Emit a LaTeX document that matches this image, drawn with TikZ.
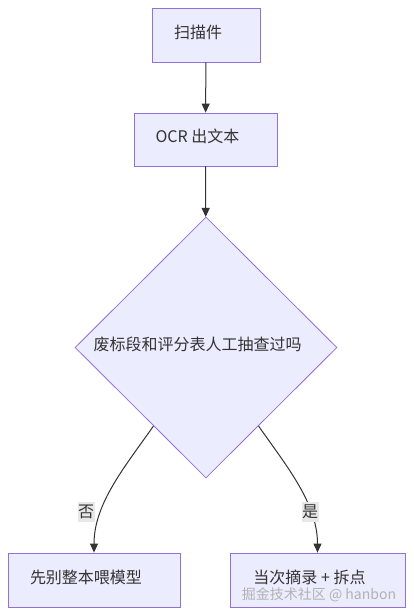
\documentclass[tikz,border=0pt]{standalone}
\usepackage{fontspec}
\setmainfont{Noto Sans CJK SC}
\usetikzlibrary{shapes.geometric,arrows.meta,calc}
\definecolor{nodefill}{HTML}{ECECFF}
\definecolor{nodeline}{HTML}{9370DB}
\definecolor{edgeline}{HTML}{333333}
\definecolor{lblfill}{HTML}{E8E8E8}

\begin{document}
\begin{tikzpicture}[x=1pt,y=-1pt,
  box/.style={draw=nodeline,fill=nodefill,line width=0.8pt,inner sep=0pt,
    text=edgeline,text height=12pt,text depth=6pt,font=\fontsize{16}{19}\selectfont},
  flow/.style={draw=edgeline,line width=1pt,-{Triangle[length=9pt,width=8pt]}},
  tag/.style={fill=lblfill,inner xsep=0.5pt,inner ysep=3pt,text=edgeline,
    font=\fontsize{16}{19}\selectfont}]

\useasboundingbox (0,0) rectangle (413,616);

\node[box,minimum width=108pt,minimum height=54pt] (scan) at (206,35) {扫描件\hspace*{16pt}};
\node[box,minimum width=143pt,minimum height=53pt] (ocr) at (205.5,139.5) {OCR 出文本\hspace*{16pt}};
\node[box,shape=diamond,minimum width=262pt,minimum height=261pt] (check) at (206,347.5) {废标段和评分表人工抽查过吗\hspace*{17pt}};
\node[box,minimum width=172pt,minimum height=54pt] (whole) at (94,580) {先别整本喂模型\hspace*{16pt}};
\node[box,minimum width=175pt,minimum height=54pt] (split) at (317.5,580) {当次摘录 + 拆点\hspace*{16pt}};

% watermark
\node[text=gray!60,font=\fontsize{14}{16}\selectfont] (mark) at (319,595) {掘金技术社区 @ hanbon};

\draw[flow] (scan) -- (ocr);
\draw[flow] (ocr) -- (check);

\coordinate (noout) at ($(check.west)!0.6!(check.south)$);
\coordinate (yesout) at ($(check.east)!0.6!(check.south)$);
\draw[flow] (noout) to[out=-125,in=90,looseness=0.9] (whole.north);
\draw[flow] (yesout) to[out=-55,in=90,looseness=0.9] (split.north);

\node[tag] (no) at (86,512) {否};
\node[tag] (yes) at (310,512) {是};
\end{tikzpicture}
\end{document}
